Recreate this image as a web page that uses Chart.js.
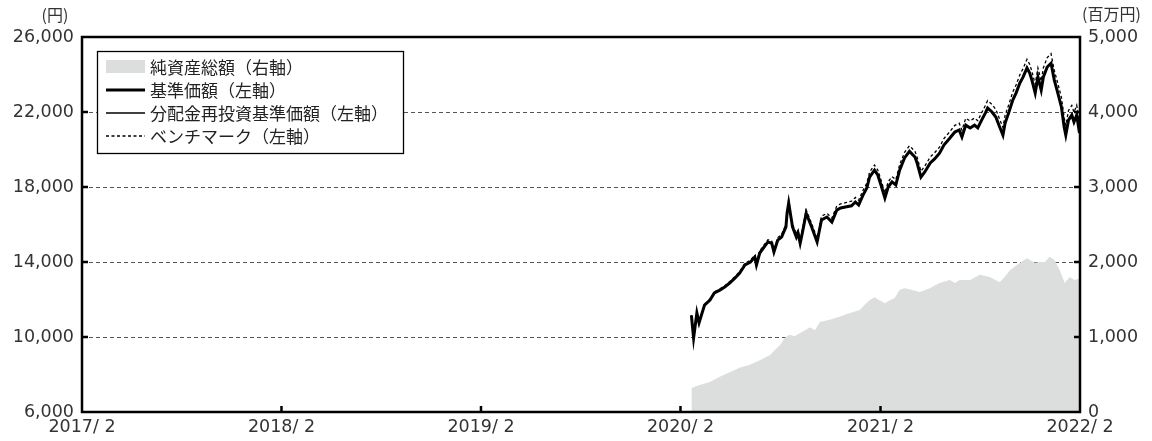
<!DOCTYPE html>
<html><head><meta charset="utf-8">
<script src="https://cdn.jsdelivr.net/npm/chart.js@4.4.1/dist/chart.umd.min.js"></script>
<style>html,body{margin:0;padding:0;background:#fff;}#wrap{width:1152px;height:441px;position:relative;}</style>
</head><body><div id="wrap"><canvas id="c" width="1152" height="441"></canvas></div>
<script>
// ---- axis ticks ----
const xTickDates = ["2017-02-01","2018-02-01","2019-02-01","2020-02-01","2021-02-01","2022-02-01"];
const xTickLabels = ["2017/ 2","2018/ 2","2019/ 2","2020/ 2","2021/ 2","2022/ 2"];
const leftTicks = [6000,10000,14000,18000,22000,26000];
const rightTicks = [0,1000,2000,3000,4000,5000];
const leftUnit = "(円)";
const rightUnit = "(百万円)";
const legendLabels = ["純資産総額（右軸）","基準価額（左軸）","分配金再投資基準価額（左軸）","ベンチマーク（左軸）"];

// ---- series (dates shared by price series) ----
const navDates = ["2020-02-21","2020-02-25","2020-03-02","2020-03-06","2020-03-16","2020-03-26","2020-04-03","2020-04-13","2020-04-22","2020-05-01",
"2020-05-11","2020-05-19","2020-05-29","2020-06-08","2020-06-16","2020-06-19","2020-06-25","2020-07-03","2020-07-10","2020-07-17",
"2020-07-21","2020-07-28","2020-08-04","2020-08-12","2020-08-14","2020-08-17","2020-08-24","2020-08-31","2020-09-03","2020-09-07",
"2020-09-11","2020-09-18","2020-09-28","2020-10-08","2020-10-16","2020-10-26","2020-11-04","2020-11-13","2020-11-20","2020-12-01",
"2020-12-10","2020-12-17","2020-12-23","2020-12-31","2021-01-07","2021-01-12","2021-01-21","2021-01-27","2021-02-03","2021-02-09",
"2021-02-15","2021-02-22","2021-03-01","2021-03-08","2021-03-17","2021-03-26","2021-04-05","2021-04-09","2021-04-16","2021-04-23",
"2021-05-03","2021-05-11","2021-05-20","2021-05-28","2021-06-08","2021-06-17","2021-06-25","2021-06-30","2021-07-07","2021-07-15",
"2021-07-23","2021-07-29","2021-08-05","2021-08-12","2021-08-16","2021-08-24","2021-08-31","2021-09-07","2021-09-13","2021-09-17",
"2021-09-24","2021-10-01","2021-10-07","2021-10-14","2021-10-20","2021-10-27","2021-11-01","2021-11-05","2021-11-11","2021-11-16",
"2021-11-22","2021-11-26","2021-12-03","2021-12-10","2021-12-16","2021-12-21","2021-12-29","2022-01-03","2022-01-06","2022-01-11",
"2022-01-17","2022-01-21","2022-01-26","2022-01-31"];
const navValues = [11150,9950,11280,10750,11700,11970,12350,12500,12670,12880,
13150,13400,13840,14000,14270,13840,14480,14800,15070,15000,
14530,15170,15330,15870,16600,17150,15870,15330,15550,15000,
15550,16600,15870,15070,16240,16400,16130,16770,16880,16950,
17000,17200,17040,17570,17950,18530,18900,18640,18000,17410,
18000,18270,18110,18900,19550,19900,19600,19280,18530,18800,
19280,19500,19800,20240,20610,20930,21040,20670,21300,21150,
21300,21150,21570,21950,22210,22000,21730,21200,20770,21410,
22000,22640,23010,23550,23870,24350,24080,23700,23010,23870,
23170,23870,24400,24600,23700,23170,22270,21200,20770,21570,
21840,21470,21840,20880];
const reinvestValues = [11150,9950,11280,10750,11700,11970,12350,12500,12670,12880,
13150,13400,13840,14000,14270,13840,14480,14800,15070,15000,
14530,15170,15330,15870,16600,17150,15870,15330,15550,15000,
15550,16600,15870,15070,16240,16400,16130,16770,16880,16950,
17000,17200,17040,17570,17950,18530,18900,18640,18000,17410,
18000,18270,18110,18900,19550,19900,19600,19280,18530,18800,
19280,19500,19800,20240,20610,20930,21040,20670,21300,21150,
21300,21150,21570,21950,22210,22000,21730,21200,20770,21410,
22000,22640,23010,23550,23870,24350,24080,23700,23010,23870,
23170,23870,24400,24600,23700,23170,22270,21200,20770,21570,
21840,21470,21840,20880];
const benchmarkValues = [11150,9960,11300,10770,11730,12010,12400,12560,12730,12950,
13230,13480,13930,14100,14370,13940,14590,14910,15190,15120,
14650,15300,15470,16020,16750,17310,16030,15490,15720,15170,
15720,16780,16050,15260,16440,16600,16340,16990,17100,17180,
17240,17440,17290,17820,18210,18790,19170,18910,18270,17680,
18280,18550,18390,19190,19850,20200,19900,19590,18840,19110,
19600,19830,20130,20580,20960,21290,21400,21030,21670,21520,
21680,21530,21960,22350,22610,22400,22140,21610,21180,21830,
22420,23070,23440,23990,24320,24810,24540,24170,23480,24350,
23650,24360,24900,25110,24210,23680,22780,21710,21280,22080,
22350,21980,22360,21400];
const assetDates = ["2020-02-21","2020-03-07","2020-03-26","2020-04-13","2020-05-01","2020-05-19","2020-06-07","2020-06-25","2020-07-14","2020-07-23",
"2020-08-01","2020-08-10","2020-08-19","2020-08-28","2020-09-06","2020-09-16","2020-09-25","2020-10-04","2020-10-13","2020-10-31",
"2020-11-18","2020-12-07","2020-12-25","2021-01-03","2021-01-12","2021-01-21","2021-01-30","2021-02-09","2021-02-18","2021-02-27",
"2021-03-08","2021-03-17","2021-03-30","2021-04-14","2021-05-02","2021-05-20","2021-06-08","2021-06-17","2021-06-26","2021-07-15",
"2021-08-02","2021-08-20","2021-09-07","2021-09-16","2021-09-26","2021-10-14","2021-10-27","2021-11-10","2021-11-20","2021-11-29",
"2021-12-07","2021-12-16","2021-12-26","2022-01-04","2022-01-13","2022-01-22","2022-01-31"];
const assetValues = [320,360,400,470,530,590,630,690,760,830,
890,990,1030,1010,1050,1090,1130,1090,1200,1230,
1270,1320,1360,1430,1490,1530,1490,1450,1490,1520,
1630,1650,1630,1600,1650,1720,1760,1720,1760,1760,
1830,1800,1730,1800,1890,1990,2050,1990,2000,2000,
2070,2030,1890,1720,1800,1760,1780];

// ---- helpers ----
function dayNum(s){const p=s.split('-').map(Number);return (Date.UTC(p[0],p[1]-1,p[2])-Date.UTC(2017,1,1))/86400000;}
function pts(dates, vals){return dates.map((d,i)=>({x:dayNum(d),y:vals[i]}));}

const numFont = {family:"'DejaVu Sans', 'Noto Sans CJK JP', sans-serif", size:17.5};
const textColor = '#333';

const decor = {
  id:'decor',
  beforeDatasetsDraw(chart){
    const {ctx, chartArea:a, scales} = chart;
    ctx.save();
    ctx.strokeStyle='#555'; ctx.lineWidth=1; ctx.setLineDash([4,3]);
    leftTicks.slice(1,-1).forEach(v=>{
      const py=Math.round(scales.y.getPixelForValue(v))+0.5;
      ctx.beginPath(); ctx.moveTo(a.left,py); ctx.lineTo(a.right,py); ctx.stroke();
    });
    ctx.restore();
  },
  afterDatasetsDraw(chart){
    const {ctx, chartArea:a, scales} = chart;
    ctx.save();
    ctx.setLineDash([]);
    ctx.strokeStyle='#000'; ctx.lineWidth=2.5;
    ctx.strokeRect(a.left, a.top, a.right-a.left, a.bottom-a.top);
    const tl=6;
    ctx.beginPath();
    leftTicks.slice(1,-1).forEach(v=>{const py=scales.y.getPixelForValue(v);ctx.moveTo(a.left,py);ctx.lineTo(a.left+tl,py);});
    rightTicks.slice(1,-1).forEach(v=>{const py=scales.y2.getPixelForValue(v);ctx.moveTo(a.right,py);ctx.lineTo(a.right-tl,py);});
    xTickDates.slice(1,-1).forEach(d=>{const px=scales.x.getPixelForValue(dayNum(d));ctx.moveTo(px,a.bottom);ctx.lineTo(px,a.bottom-tl);});
    ctx.stroke();
    // unit labels
    ctx.fillStyle=textColor; ctx.textBaseline='middle';
    ctx.font="16px 'Noto Sans CJK JP', sans-serif";
    ctx.textAlign='center'; ctx.fillText(leftUnit, 55, 15);
    ctx.textAlign='left'; ctx.fillText(rightUnit, 1082, 14);
    // legend
    const ds = chart.data.datasets;
    const bx=97, by=51, bw=306, bh=102;
    ctx.fillStyle='#fff'; ctx.fillRect(bx,by,bw,bh);
    ctx.strokeStyle='#000'; ctx.lineWidth=1.3; ctx.strokeRect(bx+0.5,by+0.5,bw,bh);
    const rows=[67,90,113,136];
    const sx0=106, sx1=145;
    // row 0: area swatch
    ctx.fillStyle=ds[0].backgroundColor; ctx.fillRect(sx0,rows[0]-7,sx1-sx0,13);
    // rows 1-3: lines (dataset order: 1=nav,2=reinvest,3=benchmark)
    [1,2,3].forEach(k=>{
      const d=ds[k];
      ctx.save();
      ctx.strokeStyle=d.borderColor; ctx.lineWidth=d.borderWidth; ctx.setLineDash(d.borderDash||[]);
      ctx.beginPath(); ctx.moveTo(sx0,rows[k]); ctx.lineTo(sx1,rows[k]); ctx.stroke();
      ctx.restore();
    });
    ctx.fillStyle='#222'; ctx.textAlign='left'; ctx.textBaseline='middle';
    ctx.font="17px 'Noto Sans CJK JP', sans-serif";
    legendLabels.forEach((t,i)=>ctx.fillText(t,150,rows[i]+1));
    ctx.restore();
  }
};

new Chart(document.getElementById('c'),{
  type:'line',
  data:{datasets:[
    {label:legendLabels[0], data:pts(assetDates,assetValues), yAxisID:'y2', fill:'origin', backgroundColor:'#dcdddd', borderWidth:0, borderColor:'rgba(0,0,0,0)', pointRadius:0, tension:0, order:4},
    {label:legendLabels[1], data:pts(navDates,navValues), yAxisID:'y', fill:false, borderColor:'#000', borderWidth:3, pointRadius:0, tension:0, order:2},
    {label:legendLabels[2], data:pts(navDates,reinvestValues), yAxisID:'y', fill:false, borderColor:'#000', borderWidth:1.3, pointRadius:0, tension:0, order:1},
    {label:legendLabels[3], data:pts(navDates,benchmarkValues), yAxisID:'y', fill:false, borderColor:'#000', borderWidth:1.3, borderDash:[3,2.5], pointRadius:0, tension:0, order:3}
  ]},
  options:{
    responsive:false, animation:false, devicePixelRatio:1,
    layout:{padding:{top:37,left:0,right:0,bottom:0}},
    plugins:{legend:{display:false}, tooltip:{enabled:false}},
    scales:{
      x:{type:'linear', min:dayNum(xTickDates[0]), max:dayNum(xTickDates[xTickDates.length-1]),
        afterBuildTicks:s=>{s.ticks=xTickDates.map(d=>({value:dayNum(d)}));},
        afterFit:s=>{s.height=29;},
        grid:{display:false, drawTicks:false}, border:{display:false},
        ticks:{autoSkip:false, maxRotation:0, padding:5, font:numFont, color:textColor, callback:(v,i)=>xTickLabels[i]}},
      y:{type:'linear', position:'left', min:leftTicks[0], max:leftTicks[leftTicks.length-1],
        afterBuildTicks:s=>{s.ticks=leftTicks.map(v=>({value:v}));},
        afterFit:s=>{s.width=82;},
        grid:{display:false, drawTicks:false}, border:{display:false},
        ticks:{padding:8, font:numFont, color:textColor, callback:v=>v.toLocaleString('en-US')}},
      y2:{type:'linear', position:'right', min:rightTicks[0], max:rightTicks[rightTicks.length-1],
        afterBuildTicks:s=>{s.ticks=rightTicks.map(v=>({value:v}));},
        afterFit:s=>{s.width=72;},
        grid:{display:false, drawTicks:false}, border:{display:false},
        ticks:{padding:8, font:numFont, color:textColor, callback:v=>v.toLocaleString('en-US')}}
    }
  },
  plugins:[decor]
});
</script></body></html>
